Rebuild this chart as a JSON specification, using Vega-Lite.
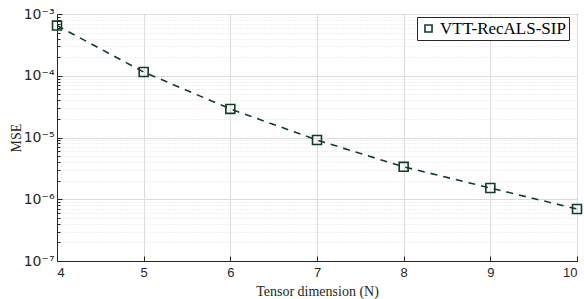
{
  "$schema": "https://vega.github.io/schema/vega-lite/v6.json",
  "width": 520,
  "height": 247,
  "autosize": "none",
  "padding": {"left": 57, "top": 14, "right": 7, "bottom": 38},
  "background": "white",
  "config": {
    "view": {"stroke": "#262626", "strokeWidth": 1},
    "axis": {
      "labelFont": "Liberation Sans",
      "labelFontSize": 12,
      "labelColor": "#262626",
      "titleFont": "Liberation Serif",
      "titleFontSize": 14,
      "titleFontWeight": "normal",
      "titleColor": "#262626",
      "domainColor": "#262626",
      "tickColor": "#262626"
    }
  },
  "data": {
    "values": [
      {"N": 4, "MSE": 6.5e-4, "series": "VTT-RecALS-SIP"},
      {"N": 5, "MSE": 1.15e-4, "series": "VTT-RecALS-SIP"},
      {"N": 6, "MSE": 2.9e-5, "series": "VTT-RecALS-SIP"},
      {"N": 7, "MSE": 9.1e-6, "series": "VTT-RecALS-SIP"},
      {"N": 8, "MSE": 3.35e-6, "series": "VTT-RecALS-SIP"},
      {"N": 9, "MSE": 1.52e-6, "series": "VTT-RecALS-SIP"},
      {"N": 10, "MSE": 6.95e-7, "series": "VTT-RecALS-SIP"}
    ]
  },
  "encoding": {
    "x": {
      "field": "N",
      "type": "quantitative",
      "scale": {"domain": [4, 10], "nice": false, "zero": false},
      "axis": {
        "title": "Tensor dimension (N)",
        "values": [4, 5, 6, 7, 8, 9, 10],
        "format": "d",
        "grid": true,
        "gridColor": "#dcdcdc",
        "tickSize": -5,
        "labelPadding": 10,
        "labelFontSize": 13,
        "titlePadding": 5
      }
    },
    "y": {
      "field": "MSE",
      "type": "quantitative",
      "scale": {"type": "log", "domain": [1e-7, 1e-3], "nice": false},
      "axis": {
        "title": "MSE",
        "titlePadding": 0,
        "values": [1e-7, 2e-7, 3e-7, 4e-7, 5e-7, 6e-7, 7e-7, 8e-7, 9e-7,
                   1e-6, 2e-6, 3e-6, 4e-6, 5e-6, 6e-6, 7e-6, 8e-6, 9e-6,
                   1e-5, 2e-5, 3e-5, 4e-5, 5e-5, 6e-5, 7e-5, 8e-5, 9e-5,
                   1e-4, 2e-4, 3e-4, 4e-4, 5e-4, 6e-4, 7e-4, 8e-4, 9e-4, 1e-3],
        "labelExpr": "abs(log(datum.value)/LN10 - round(log(datum.value)/LN10)) < 1e-6 ? (round(log(datum.value)/LN10) == -3 ? '10⁻³' : round(log(datum.value)/LN10) == -4 ? '10⁻⁴' : round(log(datum.value)/LN10) == -5 ? '10⁻⁵' : round(log(datum.value)/LN10) == -6 ? '10⁻⁶' : '10⁻⁷') : ''",
        "labelFont": "DejaVu Sans",
        "labelFontSize": 14,
        "grid": true,
        "gridColor": {"condition": {"test": "abs(log(datum.value)/LN10 - round(log(datum.value)/LN10)) < 1e-6", "value": "#dcdcdc"}, "value": "#e2e2e2"},
        "gridDash": {"condition": {"test": "abs(log(datum.value)/LN10 - round(log(datum.value)/LN10)) < 1e-6", "value": []}, "value": [1, 2]},
        "tickSize": {"condition": {"test": "abs(log(datum.value)/LN10 - round(log(datum.value)/LN10)) < 1e-6", "value": -5}, "value": -3},
        "labelPadding": 8
      }
    }
  },
  "layer": [
    {
      "mark": {"type": "line", "stroke": "#123d27", "strokeWidth": 1.6, "strokeDash": [7, 6]}
    },
    {
      "mark": {"type": "point", "shape": "square", "filled": false, "strokeWidth": 1.6, "size": 80, "opacity": 1},
      "encoding": {
        "shape": {
          "field": "series",
          "type": "nominal",
          "scale": {"range": ["square"]},
          "legend": {
            "title": null,
            "orient": "none",
            "legendX": 360,
            "legendY": 3,
            "labelFont": "Liberation Serif",
            "labelFontSize": 17,
            "labelColor": "#000000",
            "strokeColor": "#262626",
            "fillColor": "white",
            "padding": 3,
            "symbolSize": 50,
            "symbolStrokeColor": "#123d27",
            "symbolStrokeWidth": 1.6,
            "symbolFillColor": "transparent",
            "symbolOpacity": 1,
            "labelOffset": 3
          }
        },
        "color": {"value": "#123d27"}
      }
    }
  ]
}
